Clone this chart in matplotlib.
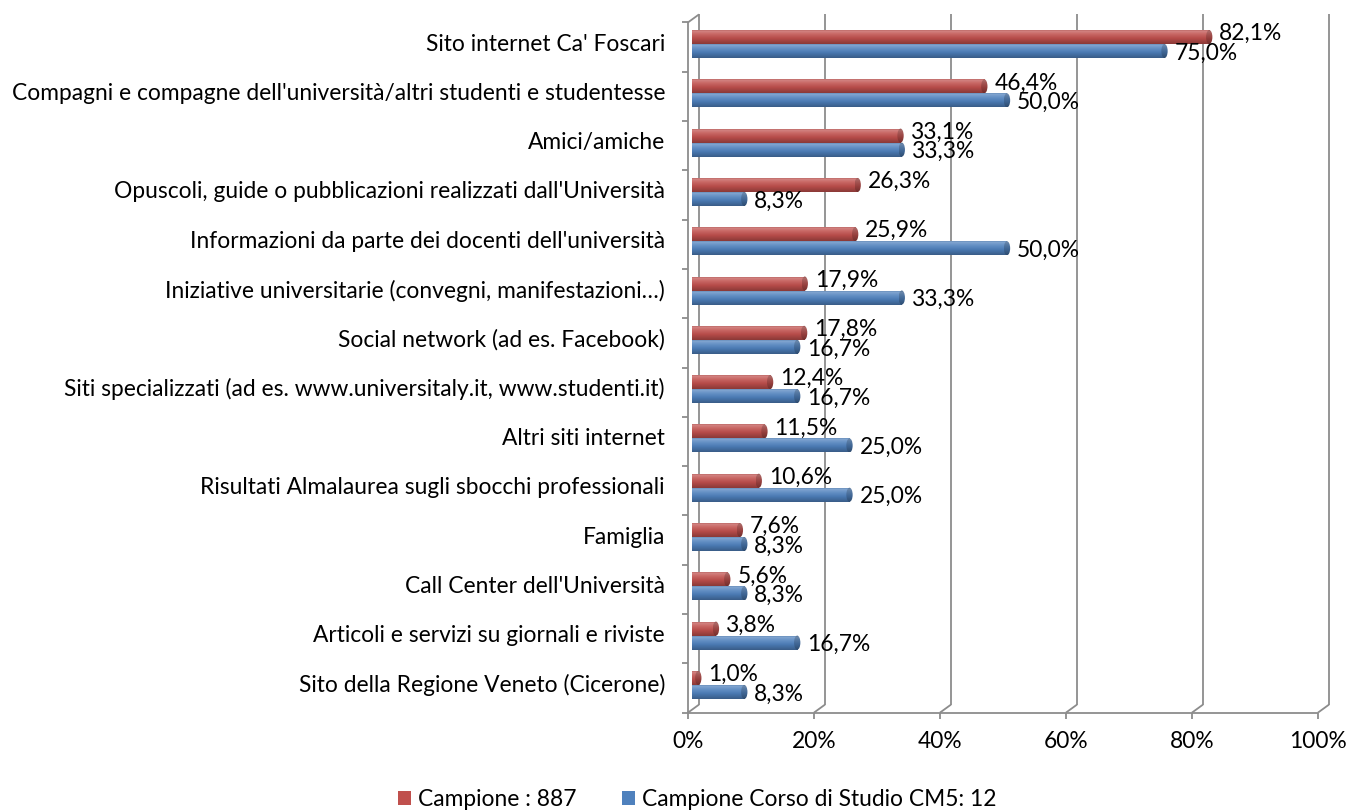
import numpy as np
import matplotlib
matplotlib.use('Agg')
import matplotlib.pyplot as plt
from matplotlib.transforms import ScaledTranslation
from matplotlib.patches import Rectangle, Ellipse, Patch
from matplotlib.colors import to_rgb

categories = [
    "Sito internet Ca' Foscari",
    "Compagni e compagne dell'università/altri studenti e studentesse",
    "Amici/amiche",
    "Opuscoli, guide o pubblicazioni realizzati dall'Università",
    "Informazioni da parte dei docenti dell'università",
    "Iniziative universitarie (convegni, manifestazioni…)",
    "Social network (ad es. Facebook)",
    "Siti specializzati (ad es. www.universitaly.it, www.studenti.it)",
    "Altri siti internet",
    "Risultati Almalaurea sugli sbocchi professionali",
    "Famiglia",
    "Call Center dell'Università",
    "Articoli e servizi su giornali e riviste",
    "Sito della Regione Veneto (Cicerone)",
]
campione = [82.1, 46.4, 33.1, 26.3, 25.9, 17.9, 17.8, 12.4, 11.5, 10.6, 7.6, 5.6, 3.8, 1.0]
corso = [75.0, 50.0, 33.3, 8.3, 50.0, 33.3, 16.7, 16.7, 25.0, 25.0, 8.3, 8.3, 16.7, 8.3]
series_names = ["Campione : 887", "Campione Corso di Studio CM5: 12"]
xticks = [0, 20, 40, 60, 80, 100]
xtick_labels = ["0%", "20%", "40%", "60%", "80%", "100%"]

RED = "#C0504D"
BLUE = "#4F81BD"
GRID = "#8C8C8C"
FONT = "Lato"
FS = 16.4

W, H = 1348, 810
plt.rcParams['font.family'] = [FONT, 'DejaVu Sans']
fig = plt.figure(figsize=(W / 100, H / 100), dpi=100)

# bar plane (pixels)
L, R, T, B = 692, 1322, 19.4, 709.6
ax = fig.add_axes([L / W, 1 - B / H, (R - L) / W, (B - T) / H])
n = len(categories)
ax.set_xlim(0, 100)
ax.set_ylim(n - 0.5, -0.5)
ax.axis('off')
ax.set_zorder(2)
ax.patch.set_visible(False)

ov = fig.add_axes([0, 0, 1, 1])
ov.set_xlim(0, W)
ov.set_ylim(H, 0)
ov.axis('off')
ov.set_zorder(1)


def shifted(dx, dy):
    return ax.transData + ScaledTranslation(dx / 100, -dy / 100, fig.dpi_scale_trans)


front = shifted(-4, 3)
back = shifted(7, -5)


def P(tr, x, y):
    px, py = tr.transform((x, y))
    return px, H - py


def seg(p, q, **kw):
    ov.plot([p[0], q[0]], [p[1], q[1]], color=GRID, lw=1.3, solid_capstyle='butt', **kw)


# 3D frame
for xv in xticks:
    seg(P(back, xv, -0.5), P(back, xv, n - 0.5))
    seg(P(back, xv, n - 0.5), P(front, xv, n - 0.5))
    fx, fy = P(front, xv, n - 0.5)
    seg((fx, fy), (fx, fy + 6))
seg(P(front, 0, n - 0.5), P(front, 100, n - 0.5))
seg(P(front, 0, -0.5), P(front, 0, n - 0.5))
seg(P(front, 0, -0.5), P(back, 0, -0.5))
for i in range(n + 1):
    fx, fy = P(front, 0, i - 0.5)
    seg((fx - 6, fy), (fx, fy))

for xv, lab in zip(xticks, xtick_labels):
    fx, fy = P(front, xv, n - 0.5)
    ov.text(fx, 742, lab, ha='center', va='center', fontsize=FS, color='#000000')

for i, cat in enumerate(categories):
    _, cy = P(ax.transData, 0, i)
    ov.text(665, cy, cat, ha='right', va='center', fontsize=FS, color='#000000')


def gradient(base, k=1.0, nrow=40):
    b = np.array(to_rgb(base))
    w = np.ones(3)
    pos = [0, 0.12, 0.32, 0.62, 1.0]
    cols = [b * 0.82, b + (w - b) * 0.3, b + (w - b) * 0.14, b * 0.95, b * 0.72]
    t = np.linspace(0, 1, nrow)
    arr = np.zeros((nrow, 1, 3))
    for c in range(3):
        arr[:, 0, c] = np.interp(t, pos, [s[c] for s in cols])
    return np.clip(arr * k, 0, 1)


BH = 0.284
CAPW = 1.0


def draw_bar(v, yc, base):
    y0, y1 = yc - BH / 2, yc + BH / 2
    rect = Rectangle((0, y0), v, BH, facecolor='none', edgecolor='none')
    ax.add_patch(rect)
    im = ax.imshow(gradient(base), extent=(0, v, y1, y0), origin='upper',
                   aspect='auto', interpolation='bilinear', zorder=2)
    im.set_clip_path(rect)
    ell = Ellipse((v, yc), CAPW, BH, facecolor='none', edgecolor='none')
    ax.add_patch(ell)
    im2 = ax.imshow(gradient(base, 0.82), extent=(v - CAPW / 2, v + CAPW / 2, y1, y0),
                    origin='upper', aspect='auto', interpolation='bilinear', zorder=3)
    im2.set_clip_path(ell)


def fmt(v):
    return f"{v:.1f}%".replace('.', ',')


for i in range(n):
    draw_bar(campione[i], i - BH / 2, RED)
    draw_bar(corso[i], i + BH / 2, BLUE)

for i in range(n):
    ax.annotate(fmt(campione[i]), xy=(campione[i], i - BH / 2), xytext=(10, 3.5),
                textcoords='offset pixels', ha='left', va='center', fontsize=FS, zorder=5)
    ax.annotate(fmt(corso[i]), xy=(corso[i], i + BH / 2), xytext=(10, -2),
                textcoords='offset pixels', ha='left', va='center', fontsize=FS, zorder=5)

ax.set_xlim(0, 100)
ax.set_ylim(n - 0.5, -0.5)

handles = [Patch(facecolor=RED, edgecolor='none'), Patch(facecolor=BLUE, edgecolor='none')]
fig.legend(handles, series_names, loc='center', bbox_to_anchor=(697 / W, 1 - 800 / H),
           ncol=2, frameon=False, fontsize=FS, handlelength=0.57, handleheight=0.57,
           handletextpad=0.3, columnspacing=2.0, borderpad=0)

fig.savefig('out.png', dpi=100, facecolor='white')
